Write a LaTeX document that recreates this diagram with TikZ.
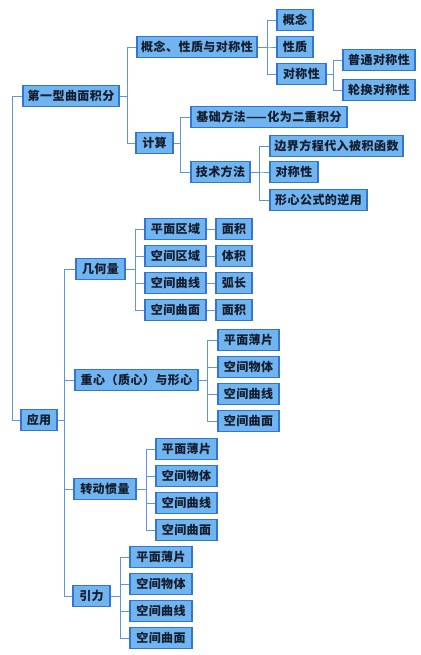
\documentclass[tikz,border=0pt]{standalone}
\usepackage{fontspec}
\newfontfamily\cjk[LetterSpace=4]{Noto Sans CJK SC}
\definecolor{boxfill}{RGB}{112,180,240}
\definecolor{boxdraw}{RGB}{50,118,210}
\definecolor{linecol}{RGB}{95,150,225}
\definecolor{txt}{RGB}{20,28,45}
\tikzset{
  box/.style={draw=boxdraw, fill=boxfill, line width=1.1pt, minimum height=21pt, inner sep=0pt, text=txt, font=\cjk\bfseries\fontsize{12}{14}\selectfont},
  link/.style={draw=linecol, line width=0.9pt},
}
\newcommand{\bx}[5]{\node[box, minimum width={#3-#2}] (#1) at ({(#2+#3)/2},{#4}) {#5};}
\begin{document}
\begin{tikzpicture}[x=1pt,y=-1pt]
\useasboundingbox[fill=white] (0,0) rectangle (420,655);
\bx{root}{23}{119}{96}{第一型曲面积分}
\bx{a1}{137}{257}{47}{概念、性质与对称性}
\bx{a2}{136}{173}{143}{计算}
\bx{b1}{277}{313}{20}{概念}
\bx{b2}{277}{313}{47}{性质}
\bx{b3}{277}{326}{74}{对称性}
\bx{c1}{343}{415}{60}{普通对称性}
\bx{c2}{343}{415}{90}{轮换对称性}
\bx{d1}{191}{347}{117}{基础方法——化为二重积分}
\bx{d2}{191}{250}{172}{技术方法}
\bx{e1}{270}{403}{146}{边界方程代入被积函数}
\bx{e2}{270}{318}{172}{对称性}
\bx{e3}{270}{367}{200}{形心公式的逆用}
\bx{app}{21}{57}{420}{应用}
\bx{g1}{76}{125}{269}{几何量}
\bx{g1a}{145}{206}{229}{平面区域}
\bx{g1b}{145}{206}{256}{空间区域}
\bx{g1c}{145}{206}{283}{空间曲线}
\bx{g1d}{145}{206}{310}{空间曲面}
\bx{h1a}{216}{252}{229}{面积}
\bx{h1b}{216}{252}{256}{体积}
\bx{h1c}{216}{252}{283}{弧长}
\bx{h1d}{216}{252}{310}{面积}
\bx{g2}{75}{198}{380}{重心（质心）与形心}
\bx{g2a}{218}{279}{340}{平面薄片}
\bx{g2b}{218}{279}{367}{空间物体}
\bx{g2c}{218}{279}{394}{空间曲线}
\bx{g2d}{218}{279}{421}{空间曲面}
\bx{g3}{74}{136}{489}{转动惯量}
\bx{g3a}{156}{217}{449}{平面薄片}
\bx{g3b}{156}{217}{476}{空间物体}
\bx{g3c}{156}{217}{503}{空间曲线}
\bx{g3d}{156}{217}{530}{空间曲面}
\bx{g4}{73}{110}{596}{引力}
\bx{g4a}{130}{192}{557}{平面薄片}
\bx{g4b}{130}{192}{584}{空间物体}
\bx{g4c}{130}{192}{611}{空间曲线}
\bx{g4d}{130}{192}{638}{空间曲面}
% connectors
\path[link] (root.west) -- ++(-10,0) |- (app.west);
\foreach \c in {a1,a2} \path[link] (root.east) -- ++(8,0) |- (\c.west);
\foreach \c in {b1,b2,b3} \path[link] (a1.east) -- ++(10,0) |- (\c.west);
\foreach \c in {c1,c2} \path[link] (b3.east) -- ++(7,0) |- (\c.west);
\foreach \c in {d1,d2} \path[link] (a2.east) -- ++(7,0) |- (\c.west);
\foreach \c in {e1,e2,e3} \path[link] (d2.east) -- ++(9,0) |- (\c.west);
\foreach \c in {g1,g2,g3,g4} \path[link] (app.east) -- ++(7,0) |- (\c.west);
\foreach \c in {g1a,g1b,g1c,g1d} \path[link] (g1.east) -- ++(10,0) |- (\c.west);
\foreach \c in {a,b,c,d} \path[link] (g1\c.east) -- (h1\c.west);
\foreach \c in {g2a,g2b,g2c,g2d} \path[link] (g2.east) -- ++(9,0) |- (\c.west);
\foreach \c in {g3a,g3b,g3c,g3d} \path[link] (g3.east) -- ++(10,0) |- (\c.west);
\foreach \c in {g4a,g4b,g4c,g4d} \path[link] (g4.east) -- ++(10,0) |- (\c.west);
\end{tikzpicture}
\end{document}
